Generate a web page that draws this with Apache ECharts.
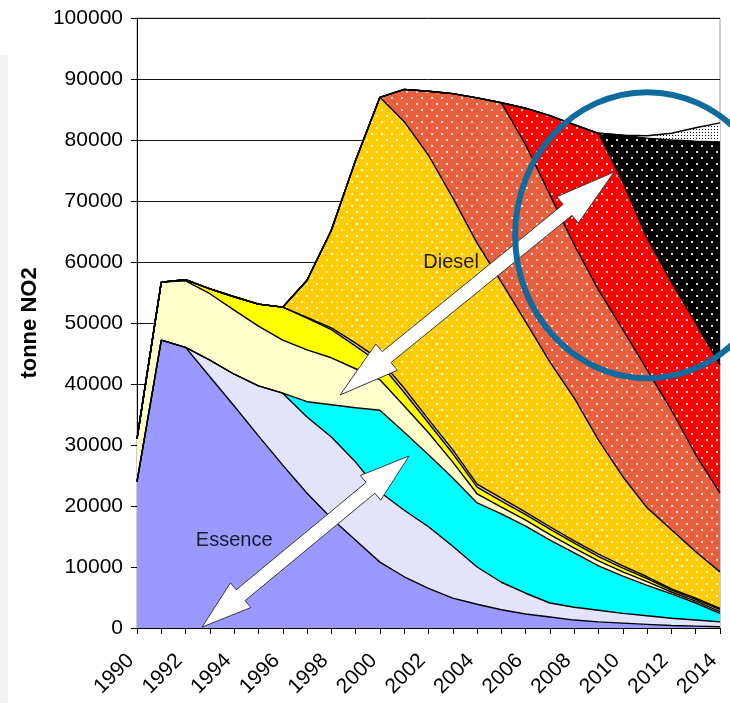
<!DOCTYPE html>
<html><head><meta charset="utf-8">
<script src="https://cdn.jsdelivr.net/npm/echarts/dist/echarts.min.js"></script>
<style>html,body{margin:0;padding:0;background:#fff}#c{width:730px;height:703px}</style>
</head><body><div id="c"></div>
<script>
const years = ['1990','1991','1992','1993','1994','1995','1996','1997','1998','1999','2000','2001','2002','2003','2004','2005','2006','2007','2008','2009','2010','2011','2012','2013','2014'];
// layer thicknesses (tonne NO2), bottom to top
const essence1  = [24000,47200,46000,41200,36400,31500,26700,22100,18000,14400,10800,8400,6500,4900,3900,3000,2300,1800,1300,1000,800,600,400,300,200];
const essence2  = [0,0,0,2700,5200,8200,11800,12500,13300,12800,11500,10900,10100,8500,6100,4500,3400,2300,2100,1900,1600,1400,1200,1000,800];
const essence3  = [0,0,0,0,0,0,0,2500,5300,8900,13400,12800,11800,11200,10500,11200,11000,10300,8900,7300,6100,5000,4000,2800,1400];
const diesel1   = [7000,9500,10900,10900,10500,9800,8700,8500,7700,6400,5000,4300,3600,2600,1500,1100,1000,900,800,800,700,600,300,300,300];
const diesel2   = [0,0,200,800,2200,3600,5400,5200,4600,3700,2700,2200,1600,1400,1100,1000,900,900,800,700,600,500,300,300,300];
const diesel3   = [0,0,0,0,0,0,0,100,300,500,600,700,600,600,500,500,400,400,400,400,400,300,200,200,200];
const diesel4   = [0,0,0,0,0,0,0,6100,16000,30000,43000,43700,43300,41300,39500,35400,31200,27000,23400,18700,14600,11300,9700,7600,6000];
const diesel5   = [0,0,0,0,0,0,0,0,0,0,0,5300,10500,17100,23800,29400,29000,27400,25100,24600,24100,22600,19600,15900,12900];
const diesel6   = [0,0,0,0,0,0,0,0,0,0,0,0,0,0,0,0,6000,13000,19700,25700,24200,21600,21000,21600,21000];
const diesel7   = [0,0,0,0,0,0,0,0,0,0,0,0,0,0,0,0,0,0,0,0,7700,16400,23300,29800,36600];
const diesel8   = [0,0,0,0,0,0,0,0,0,0,0,0,0,0,0,0,0,0,0,0,0,400,1100,2200,3100];
const yTicks = [0,10000,20000,30000,40000,50000,60000,70000,80000,90000,100000];
const labelDiesel = 'Diesel', labelEssence = 'Essence', yName = 'tonne NO2';

function dots(bg, fg, w, h, pts, s) {
  const c = document.createElement('canvas'); c.width = w; c.height = h;
  const g = c.getContext('2d'); g.fillStyle = bg; g.fillRect(0,0,w,h);
  g.fillStyle = fg; pts.forEach(p => g.fillRect(p[0], p[1], s, s));
  return {image: c, repeat: 'repeat'};
}
const dotPts = [[1,1],[6,7]];
const layers = [
  {d: essence1, fill: '#9999ff'},
  {d: essence2, fill: '#e3e3fc'},
  {d: essence3, fill: '#00ffff'},
  {d: diesel1, fill: '#ffffcc'},
  {d: diesel2, fill: '#ffff00'},
  {d: diesel3, fill: '#f8c8a0'},
  {d: diesel4, fill: dots('#ffcc00','rgba(255,255,255,0.85)',10,12,dotPts,2)},
  {d: diesel5, fill: dots('#e8603e','rgba(255,255,255,0.8)',10,12,dotPts,2)},
  {d: diesel6, fill: dots('#ff0000','rgba(255,255,255,0.8)',10,12,dotPts,2)},
  {d: diesel7, fill: dots('#000000','rgba(255,255,255,0.85)',10,12,dotPts,2)},
  {d: diesel8, fill: dots('#ffffff','#000000',3,3,[[0,0]],1)}
];
const FONT = 'Liberation Sans, Arial, sans-serif';
const chart = echarts.init(document.getElementById('c'), null, {renderer: 'canvas'});
chart.setOption({
  animation: false,
  backgroundColor: '#ffffff',
  grid: {left: 137, right: 10, top: 18, bottom: 75, outerBoundsMode: 'none', containLabel: false,
         show: true, borderColor: '#9a9a9a', borderWidth: 1, backgroundColor: 'transparent'},
  xAxis: {type: 'category', data: years, boundaryGap: false,
    axisLine: {show: true, onZero: false, lineStyle: {color: '#000', width: 1}},
    axisTick: {show: true, interval: 0, length: 6, lineStyle: {color: '#000', width: 1}},
    axisLabel: {interval: 1, rotate: 45, margin: 23, padding: [0, 9, 0, 0], fontFamily: FONT, fontSize: 21, color: '#000'},
    splitLine: {show: false}},
  yAxis: {type: 'value', min: yTicks[0], max: yTicks[yTicks.length-1], interval: yTicks[1]-yTicks[0],
    name: yName, nameLocation: 'middle', nameGap: 96, nameRotate: 90,
    nameTextStyle: {fontFamily: FONT, fontSize: 22, fontWeight: 'bold', color: '#000'},
    axisLine: {show: true, lineStyle: {color: '#000', width: 1}},
    axisTick: {show: true, length: 6, lineStyle: {color: '#000', width: 1}},
    axisLabel: {margin: 14, fontFamily: FONT, fontSize: 21, color: '#000', formatter: v => String(v)},
    splitLine: {show: true, lineStyle: {color: '#111', width: 1}}},
  series: layers.map((L, i) => ({
    type: 'line', stack: 'all', symbol: 'none', smooth: false, z: 2,
    data: L.d,
    lineStyle: {color: '#000', width: 1.4},
    areaStyle: {color: L.fill, opacity: 1}
  }))
});

// position in (fractional year, value) -> pixel, via the chart's own axes
function P(yr, v) {
  const i = yr - 1990, i0 = Math.max(0, Math.min(years.length - 2, Math.floor(i))), f = i - i0;
  const a = chart.convertToPixel({gridIndex: 0}, [i0, v]);
  const b = chart.convertToPixel({gridIndex: 0}, [i0 + 1, v]);
  return [a[0] + (b[0] - a[0]) * f, a[1]];
}
function arrow(A, B, hl, hw, sw) {
  const dx = B[0]-A[0], dy = B[1]-A[1], L = Math.hypot(dx, dy);
  const ux = dx/L, uy = dy/L, nx = -uy, ny = ux;
  const p = (t, s) => [A[0]+ux*t+nx*s, A[1]+uy*t+ny*s];
  return {type: 'polygon', z: 100,
    shape: {points: [p(0,0), p(hl,hw), p(hl,sw), p(L-hl,sw), p(L-hl,hw), p(L,0), p(L-hl,-hw), p(L-hl,-sw), p(hl,-sw), p(hl,-hw)]},
    style: {fill: '#ffffff', stroke: '#3a3a3a', lineWidth: 1}};
}
const cc = P(2011.0, 64400);
const dT = P(2002.93, 60000), eT = P(1994.0, 14300);
chart.setOption({graphic: [
  {type: 'rect', z: -10, shape: {x: 0, y: 55, width: 8, height: 648}, style: {fill: '#f2f2f2'}},
  arrow(P(1998.36, 38200), P(2009.64, 74750), 60, 17, 7),
  arrow(P(1992.68, 150), P(2001.2, 28200), 50, 16, 7),
  {type: 'text', z: 101, style: {text: labelDiesel, x: dT[0], y: dT[1],
     font: '20px ' + FONT, fill: '#1a1a1a', align: 'center', verticalAlign: 'middle'}},
  {type: 'text', z: 101, style: {text: labelEssence, x: eT[0], y: eT[1],
     font: '20px ' + FONT, fill: '#1a1a2a', align: 'center', verticalAlign: 'middle'}},
  {type: 'ellipse', z: 102, shape: {cx: cc[0], cy: cc[1], rx: 132, ry: 143},
     style: {fill: 'none', stroke: '#0f6a9e', lineWidth: 6}}
]});
</script>
</body></html>
